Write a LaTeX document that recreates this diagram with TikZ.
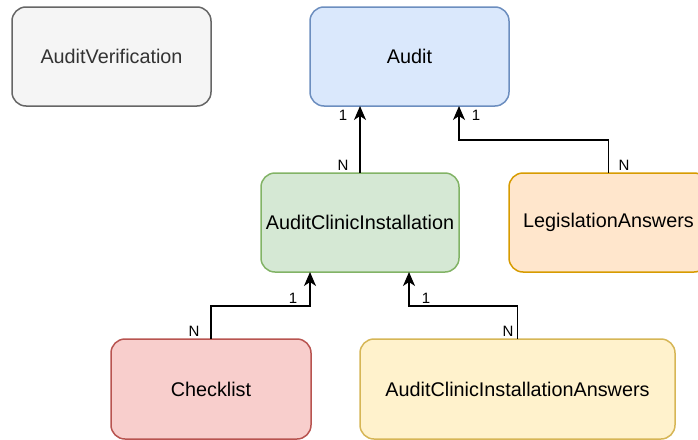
\documentclass[tikz,border=0pt]{standalone}
\usepackage{fontspec}
\setmainfont{Liberation Sans}
\usetikzlibrary{arrows.meta}
\definecolor{gfill}{HTML}{F5F5F5}\definecolor{gline}{HTML}{666666}\definecolor{gtext}{HTML}{333333}
\definecolor{bfill}{HTML}{DAE8FC}\definecolor{bline}{HTML}{6C8EBF}
\definecolor{grfill}{HTML}{D5E8D4}\definecolor{grline}{HTML}{82B366}
\definecolor{ofill}{HTML}{FFE6CC}\definecolor{oline}{HTML}{D79B00}
\definecolor{rfill}{HTML}{F8CECC}\definecolor{rline}{HTML}{B85450}
\definecolor{yfill}{HTML}{FFF2CC}\definecolor{yline}{HTML}{D6B656}
\tikzset{
  entity/.style={draw, rounded corners=14pt, line width=1.5pt, minimum height=99pt, inner sep=0pt, outer sep=0pt, font=\fontsize{19.8}{23}\selectfont, text=black},
  arr/.style={line width=1.5pt, -{Stealth[length=14pt,width=12pt,inset=4pt]}},
  card/.style={font=\fontsize{15}{17}\selectfont, inner sep=0pt}
}
\begin{document}
\begin{tikzpicture}[x=1pt,y=-1pt]
\useasboundingbox (0,0) rectangle (698,439);
\begin{scope}
\clip (0,0) rectangle (698,439);
\node[entity, fill=gfill, draw=gline, text=gtext, minimum width=199pt] (AV) at (111.5,56.5) {AuditVerification};
\node[entity, fill=bfill, draw=bline, minimum width=199pt] (Audit) at (409.5,56.5) {Audit};
\node[entity, fill=grfill, draw=grline, minimum width=198pt] (ACI) at (360,222.5) {AuditClinicInstallation};
\node[entity, fill=ofill, draw=oline, minimum width=199pt] (LA) at (608.5,222.5) {LegislationAnswers};
\node[entity, fill=rfill, draw=rline, minimum width=200pt, minimum height=100pt] (CL) at (211,389) {Checklist};
\node[entity, fill=yfill, draw=yline, minimum width=315pt, minimum height=100pt] (ACIA) at (517.5,389) {AuditClinicInstallationAnswers};
\end{scope}
\coordinate (a1) at (459,106);
\coordinate (c1) at (310,272);
\coordinate (c2) at (409,272);
\draw[arr] (ACI.north) -- (Audit.south -| ACI.north);
\draw[arr] (LA.north) -- ++(0,-33) -| (a1);
\draw[arr] (CL.north) -- ++(0,-33) -| (c1);
\draw[arr] (ACIA.north) -- ++(0,-33) -| (c2);
\node[card] (l1) at (343,115) {1};
\node[card] (l2) at (343,165) {N};
\node[card] (l3) at (476,115) {1};
\node[card] (l4) at (624,165) {N};
\node[card] (l5) at (293,298) {1};
\node[card] (l6) at (194,331) {N};
\node[card] (l7) at (426,298) {1};
\node[card] (l8) at (508,331) {N};
\end{tikzpicture}
\end{document}
